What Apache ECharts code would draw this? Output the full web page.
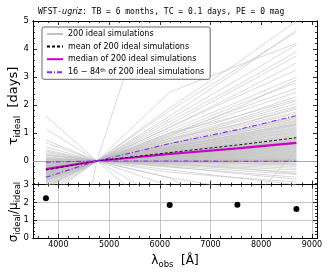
<!DOCTYPE html>
<html><head><meta charset="utf-8">
<script src="https://cdn.jsdelivr.net/npm/echarts@6/dist/echarts.min.js"></script>
<style>html,body{margin:0;padding:0;background:#fff}#c{width:333px;height:277px}</style>
</head><body><div id="c"></div>
<script>
// ---------------- data ----------------
const bandNames = ['u', 'g', 'r', 'i', 'z'];
const bandWave = [3755, 4760, 6195, 7530, 8694];
// simulated tau at u, r, i, z (g band is the reference, tau = 0)
const simTau = [
  [-1.30, 1.90, 3.50, 5.00], [-1.10, 1.60, 3.20, 4.68], [-0.90, 1.80, 3.30, 4.60], [-1.00, 2.46, 3.40, 4.20],
  [-1.20, 1.50, 2.90, 4.15], [-0.80, 1.40, 2.70, 3.90], [-0.95, 1.30, 2.60, 3.75], [-0.70, 1.20, 2.30, 3.25],
  [-0.85, 1.10, 2.10, 3.00], [-0.65, 1.00, 2.00, 2.80], [-0.75, 0.95, 1.85, 2.60], [-0.60, 0.90, 1.75, 2.45],
  [-0.70, 0.85, 1.60, 2.30], [-0.55, 0.80, 1.50, 2.15], [-0.62, 0.72, 1.40, 1.95], [-0.50, 0.65, 1.25, 1.75],
  [-0.90, 1.20, 2.40, 3.50], [-0.60, 0.90, 1.90, 2.90], [-0.80, 1.00, 1.60, 2.20], [-0.45, 0.75, 1.45, 2.05],
  [-0.55, 0.70, 1.30, 1.85], [-0.40, 0.62, 1.20, 1.70], [-0.68, 0.80, 1.30, 1.90], [-0.35, 0.50, 0.90, 1.30],
  [-0.58, 0.60, 1.12, 1.60], [-0.45, 0.55, 1.10, 1.57], [-0.66, 0.62, 1.05, 1.53], [-0.40, 0.52, 1.08, 1.50],
  [-0.52, 0.58, 1.00, 1.46], [-0.35, 0.50, 1.02, 1.42], [-0.60, 0.48, 0.95, 1.39], [-0.48, 0.54, 0.92, 1.35],
  [-0.30, 0.46, 0.96, 1.32], [-0.55, 0.44, 0.88, 1.28], [-0.42, 0.50, 0.86, 1.25], [-0.72, 0.42, 0.84, 1.21],
  [-0.38, 0.45, 0.80, 1.18], [-0.50, 0.40, 0.82, 1.15], [-0.25, 0.43, 0.78, 1.12], [-0.46, 0.38, 0.76, 1.09],
  [-0.62, 0.40, 0.72, 1.06], [-0.34, 0.36, 0.74, 1.03], [-0.44, 0.38, 0.70, 1.00], [-0.28, 0.34, 0.68, 0.97],
  [-0.52, 0.36, 0.64, 0.94], [-0.36, 0.32, 0.65, 0.91], [-0.40, 0.34, 0.61, 0.88], [-0.20, 0.30, 0.62, 0.86],
  [-0.47, 0.31, 0.58, 0.83], [-0.32, 0.29, 0.57, 0.81], [-0.38, 0.30, 0.55, 0.79], [-0.26, 0.27, 0.54, 0.77],
  [-0.42, 0.28, 0.52, 0.75], [-0.30, 0.26, 0.51, 0.73], [-0.18, 0.25, 0.50, 0.72], [-0.35, 0.27, 0.48, 0.70],
  [-0.29, 0.24, 0.49, 0.69], [-0.22, 0.25, 0.47, 0.67], [-0.33, 0.23, 0.45, 0.64], [-0.27, 0.22, 0.44, 0.62],
  [-0.40, 0.24, 0.42, 0.60], [-0.24, 0.20, 0.41, 0.58], [-0.31, 0.21, 0.39, 0.56], [-0.19, 0.19, 0.38, 0.54],
  [-0.36, 0.20, 0.36, 0.52], [-0.28, 0.18, 0.35, 0.50], [-0.22, 0.17, 0.34, 0.48], [-0.30, 0.16, 0.32, 0.46],
  [-0.15, 0.16, 0.31, 0.44], [-0.26, 0.15, 0.29, 0.42], [-0.34, 0.14, 0.28, 0.40], [-0.18, 0.13, 0.27, 0.38],
  [-0.23, 0.13, 0.25, 0.36], [-0.12, 0.12, 0.24, 0.34], [-0.29, 0.11, 0.22, 0.32], [-0.20, 0.11, 0.21, 0.30],
  [-0.10, 0.10, 0.20, 0.28], [-0.25, 0.09, 0.18, 0.26], [-0.16, 0.09, 0.17, 0.24], [-0.08, 0.08, 0.15, 0.22],
  [-0.21, 0.07, 0.14, 0.20], [-0.13, 0.06, 0.13, 0.18], [-0.05, 0.06, 0.11, 0.16], [-0.17, 0.05, 0.10, 0.14],
  [-0.09, 0.04, 0.09, 0.12], [-0.02, 0.04, 0.07, 0.10], [-0.14, 0.03, 0.06, 0.08], [-0.06, 0.03, 0.05, 0.07],
  [0.02, 0.02, 0.04, 0.06], [-0.11, 0.02, 0.03, 0.04], [0.04, 0.01, 0.02, 0.03], [-0.04, 0.01, 0.01, 0.02],
  [0.00, -0.01, -0.01, -0.02], [0.05, -0.02, -0.04, -0.06], [0.10, -0.04, -0.07, -0.10], [0.06, -0.05, -0.10, -0.15],
  [0.15, -0.07, -0.14, -0.20], [0.20, -0.09, -0.18, -0.26], [0.12, -0.12, -0.22, -0.32], [0.30, -0.14, -0.28, -0.40],
  [0.25, -0.18, -0.34, -0.48], [0.40, -0.22, -0.41, -0.58], [0.50, -0.40, -0.60, -0.75], [0.35, -0.32, -0.60, -0.85],
  [0.65, -0.60, -1.00, -1.40], [0.75, -0.90, -1.40, -1.90], [1.15, -1.50, -2.80, -4.00], [1.60, -2.20, -4.00, -5.50],
  [0.08, -0.10, -0.25, -0.45], [0.22, -0.20, -0.45, -0.65], [-0.12, -0.03, -0.08, -0.12], [-0.03, 0.00, 0.01, 0.01],
  [-8.40, 8.00, 12.0, 15.0], [-0.20, -0.60, -2.00, 0.40]
];
const meanTau   = [-0.32, 0, 0.30, 0.57, 0.83];
const medianTau = [-0.29, 0, 0.25, 0.45, 0.65];
const p84Tau    = [-0.04, 0, 0.62, 1.12, 1.62];
const p16Tau    = [-0.58, 0, 0.00, -0.01, -0.01];
const ratioWave = [3755, 6195, 7530, 8694];
const ratioVals = [2.23, 1.85, 1.87, 1.63];
const xMajor = [4000, 5000, 6000, 7000, 8000, 9000];
const topYMajor = [0, 1, 2, 3, 4, 5];
const botYMajor = [0, 1, 2, 3];
const legendNames = ['200 ideal simulations', 'mean of 200 ideal simulations',
  'median of 200 ideal simulations', '16 − 84th of 200 ideal simulations'];

// ---------------- layout ----------------
const X_MIN = 3500, X_MAX = 9100;
const TOP_MIN = -0.84, TOP_MAX = 5;
const BOT_MIN = 0, BOT_MAX = 3;
const FONT = 'DejaVu Sans';
function minorList(a, b, step, majors) {
  const out = [];
  for (let k = Math.ceil(a / step - 1e-9); k * step <= b + 1e-9; k++) {
    const v = +(k * step).toFixed(6);
    if (!majors.some(m => Math.abs(m - v) < 1e-6)) out.push(v);
  }
  return out;
}
const xMinor = minorList(X_MIN, X_MAX, 200, xMajor);
const topYMinor = minorList(TOP_MIN, TOP_MAX, 0.2, topYMajor);
const botYMinor = minorList(BOT_MIN, BOT_MAX, 0.2, botYMajor);

const tickStyle = { color: '#000', width: 0.8 };
const lineAx = { show: true, onZero: false, lineStyle: { color: '#000', width: 1 } };
const gridSplit = { show: true, lineStyle: { color: '#b8b8b8', width: 0.8 } };

function mkX(gi, pos, vals, len, label, split) {
  return {
    type: 'value', gridIndex: gi, position: pos, min: X_MIN, max: X_MAX,
    axisLine: lineAx,
    axisTick: { show: true, inside: true, length: len, customValues: vals, lineStyle: tickStyle },
    axisLabel: label ? { show: true, customValues: vals, fontSize: 8, fontFamily: FONT, color: '#000', margin: 3,
      formatter: v => String(v) } : { show: false },
    splitLine: split ? gridSplit : { show: false }
  };
}
function mkY(gi, pos, mn, mx, vals, len, label, split) {
  return {
    type: 'value', gridIndex: gi, position: pos, min: mn, max: mx,
    axisLine: lineAx,
    axisTick: { show: true, inside: true, length: len, customValues: vals, lineStyle: tickStyle },
    axisLabel: label ? { show: true, customValues: vals, fontSize: 8.5, fontFamily: FONT, color: '#000', margin: 4,
      formatter: v => String(v) } : { show: false },
    splitLine: split ? gridSplit : { show: false }
  };
}
const xAxes = [], yAxes = [];
[0, 1].forEach(gi => {
  xAxes.push(mkX(gi, 'bottom', xMajor, 4, gi === 1, gi === 1));
  xAxes.push(mkX(gi, 'bottom', xMinor, 2, false, false));
  xAxes.push(mkX(gi, 'top', xMajor, 4, false, false));
  xAxes.push(mkX(gi, 'top', xMinor, 2, false, false));
  const mn = gi === 0 ? TOP_MIN : BOT_MIN, mx = gi === 0 ? TOP_MAX : BOT_MAX;
  const maj = gi === 0 ? topYMajor : botYMajor, mnr = gi === 0 ? topYMinor : botYMinor;
  yAxes.push(mkY(gi, 'left', mn, mx, maj, 4, true, gi === 1));
  yAxes.push(mkY(gi, 'left', mn, mx, mnr, 2, false, false));
  yAxes.push(mkY(gi, 'right', mn, mx, maj, 4, false, false));
  yAxes.push(mkY(gi, 'right', mn, mx, mnr, 2, false, false));
});

function withG(row) { return [row[0], 0, row[1], row[2], row[3]]; }
function pts(vals) { return bandWave.map((w, k) => [w, vals[k]]); }

const series = [];
simTau.forEach((row, k) => {
  const s = {
    name: legendNames[0], type: 'line', xAxisIndex: 0, yAxisIndex: 0,
    data: pts(withG(row)), symbol: 'none', silent: true, z: 2,
    lineStyle: { color: '#c0c0c0', width: 0.6 }, itemStyle: { color: '#c0c0c0' }
  };
  if (k === 0) {
    s.markLine = { silent: true, symbol: 'none', label: { show: false },
      lineStyle: { color: '#a0a0a0', width: 0.9, type: 'solid' }, data: [{ yAxis: 0 }] };
  }
  series.push(s);
});
series.push({ name: legendNames[2], type: 'line', xAxisIndex: 0, yAxisIndex: 0, data: pts(medianTau),
  symbol: 'none', z: 4, lineStyle: { color: '#c800c8', width: 2.2 }, itemStyle: { color: '#c800c8' } });
series.push({ name: legendNames[1], type: 'line', xAxisIndex: 0, yAxisIndex: 0, data: pts(meanTau),
  symbol: 'none', z: 5, lineStyle: { color: '#000', width: 0.9, type: [3, 2] }, itemStyle: { color: '#000' } });
series.push({ name: legendNames[3], type: 'line', xAxisIndex: 0, yAxisIndex: 0, data: pts(p84Tau),
  symbol: 'none', z: 5, lineStyle: { color: '#8a2be2', width: 1.1, type: [5, 2, 1, 2] }, itemStyle: { color: '#8a2be2' } });
series.push({ name: legendNames[3] + ' ', type: 'line', xAxisIndex: 0, yAxisIndex: 0, data: pts(p16Tau),
  symbol: 'none', z: 5, lineStyle: { color: '#8a2be2', width: 1.1, type: [5, 2, 1, 2] }, itemStyle: { color: '#8a2be2' } });
series.push({ name: 'ratio', type: 'scatter', xAxisIndex: 4, yAxisIndex: 4,
  data: ratioWave.map((w, k) => [w, ratioVals[k]]), symbolSize: 6, itemStyle: { color: '#000', opacity: 1 }, z: 5 });

const option = {
  animation: false,
  backgroundColor: '#fff',
  grid: [
    { left: 33, right: 16, top: 21, height: 163.5, outerBoundsMode: 'none' },
    { left: 33, right: 16, top: 184.5, height: 53.5, outerBoundsMode: 'none' }
  ],
  xAxis: xAxes, yAxis: yAxes, series,
  legend: {
    left: 42, top: 27, orient: 'vertical', itemWidth: 16, itemHeight: 8, itemGap: 4.6,
    padding: [3, 6, 3, 4], borderColor: '#444', borderWidth: 0.8, borderRadius: 2,
    backgroundColor: '#fff', selectedMode: false, data: legendNames,
    itemStyle: { opacity: 0 },
    textStyle: { fontSize: 8, fontFamily: FONT, color: '#000',
      rich: { n: { fontSize: 8, fontFamily: FONT }, sup: { fontSize: 5.5, fontFamily: FONT, verticalAlign: 'top', padding: [0, 0, 3, 0] } } },
    formatter: name => name.indexOf('84th') >= 0 ? '{n|16 − 84}{sup|th}{n| of 200 ideal simulations}' : name
  },
  graphic: [
    { type: 'text', x: 38, y: 12, silent: true, style: {
      text: '{m|WFST-}{it|ugriz}{m|: TB = 6 months, TC = 0.1 days, PE = 0 mag}',
      verticalAlign: 'middle', align: 'left',
      rich: { m: { fontFamily: 'DejaVu Sans Mono', fontSize: 8, fill: '#000' },
              it: { fontFamily: FONT, fontStyle: 'italic', fontSize: 8, fill: '#000' } } } },
    { type: 'text', x: 175, y: 261, silent: true, style: {
      text: '{l|λ}{s|obs}{l|  [Å]}', align: 'center', verticalAlign: 'middle',
      rich: { l: { fontFamily: FONT, fontSize: 12, fill: '#000', verticalAlign: 'bottom' },
              s: { fontFamily: FONT, fontSize: 8.5, fill: '#000', verticalAlign: 'bottom', padding: [0, 0, -2, 0] } } } },
    { type: 'text', x: 14, y: 106, rotation: Math.PI / 2, silent: true, style: {
      text: '{l|τ}{s|ideal}{l|  [days]}', align: 'center', verticalAlign: 'middle',
      rich: { l: { fontFamily: FONT, fontSize: 13, fill: '#000', verticalAlign: 'bottom' },
              s: { fontFamily: FONT, fontSize: 9, fill: '#000', verticalAlign: 'bottom', padding: [0, 0, -2, 0] } } } },
    { type: 'text', x: 14, y: 212, rotation: Math.PI / 2, silent: true, style: {
      text: '{l|σ}{s|ideal}{l|/μ}{s|ideal}', align: 'center', verticalAlign: 'middle',
      rich: { l: { fontFamily: FONT, fontSize: 12, fill: '#000', verticalAlign: 'bottom' },
              s: { fontFamily: FONT, fontSize: 8.5, fill: '#000', verticalAlign: 'bottom', padding: [0, 0, -2, 0] } } } }
  ]
};
const chart = echarts.init(document.getElementById('c'), null, { renderer: 'canvas' });
chart.setOption(option);
</script></body></html>
